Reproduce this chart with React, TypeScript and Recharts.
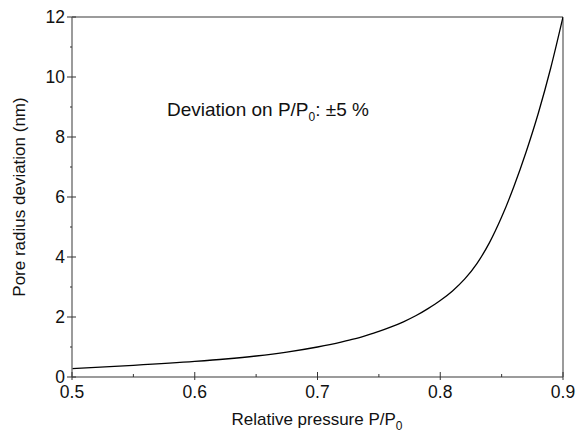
import { LineChart, Line, XAxis, YAxis, ReferenceLine } from "recharts";

// relative pressure P/P0
const pressure = [
  0.5, 0.55, 0.6, 0.625, 0.65, 0.675, 0.7, 0.71, 0.72, 0.73, 0.74, 0.75, 0.76,
  0.77, 0.78, 0.79, 0.8, 0.81, 0.82, 0.83, 0.84, 0.85, 0.86, 0.87, 0.88, 0.89,
  0.9,
];
// pore radius deviation (nm)
const deviation = [
  0.28, 0.39, 0.52, 0.6, 0.7, 0.83, 1.0, 1.08, 1.17, 1.27, 1.39, 1.52, 1.67,
  1.84, 2.04, 2.28, 2.55, 2.87, 3.27, 3.79, 4.47, 5.33, 6.35, 7.51, 8.81, 10.3,
  12.0,
];

const xTicks = [0.5, 0.55, 0.6, 0.65, 0.7, 0.75, 0.8, 0.85, 0.9];
const xMajor = ["0.5", "0.6", "0.7", "0.8", "0.9"];
const yTicks = [0, 1, 2, 3, 4, 5, 6, 7, 8, 9, 10, 11, 12];

const data = pressure.map((p, i) => ({ p, d: deviation[i] }));

const AXIS = "#7a7a7a";
const FONT = "'Liberation Sans', Arial, sans-serif";

const XTick = (props: any) => {
  const { x, y, payload } = props;
  const label = payload.value.toFixed(2).replace(/0$/, "");
  const major = xMajor.includes(label);
  return (
    <g>
      {major ? (
        <line x1={x} x2={x} y1={y - 5} y2={y + 3} stroke="#333" strokeWidth={1} />
      ) : (
        <line x1={x} x2={x} y1={y - 3} y2={y} stroke="#333" strokeWidth={1} />
      )}
      {major && (
        <text x={x} y={y + 21} textAnchor="middle" fontSize={17.5} fill="#111" fontFamily={FONT}>
          {label}
        </text>
      )}
    </g>
  );
};

const YTick = (props: any) => {
  const { x, y, payload } = props;
  const major = payload.value % 2 === 0;
  return (
    <g>
      {major ? (
        <line x1={x - 5} x2={x + 4} y1={y} y2={y} stroke="#333" strokeWidth={1} />
      ) : (
        <line x1={x - 2} x2={x} y1={y} y2={y} stroke="#333" strokeWidth={1} />
      )}
      {major && (
        <text x={x - 7} y={y + 6} textAnchor="end" fontSize={17.5} fill="#111" fontFamily={FONT}>
          {payload.value}
        </text>
      )}
    </g>
  );
};

export default function App() {
  return (
    <div style={{ position: "absolute", left: 0, top: 0, width: 584, height: 436, background: "#fff" }}>
      <LineChart
        width={584}
        height={436}
        data={data}
        margin={{ top: 17, right: 21, bottom: 29, left: 32 }}
      >
        <XAxis
          dataKey="p"
          type="number"
          domain={[0.5, 0.9]}
          ticks={xTicks}
          tick={<XTick />}
          tickLine={false}
          tickSize={0}
          tickMargin={0}
          height={30}
          stroke={AXIS}
          strokeWidth={1.5}
          allowDataOverflow
        />
        <YAxis
          type="number"
          domain={[0, 12]}
          ticks={yTicks}
          tick={<YTick />}
          tickLine={false}
          tickSize={0}
          tickMargin={0}
          width={40}
          stroke={AXIS}
          strokeWidth={1.5}
          interval={0}
          allowDataOverflow
        />
        <ReferenceLine y={12} stroke={AXIS} strokeWidth={1.5} />
        <ReferenceLine x={0.9} stroke={AXIS} strokeWidth={1.5} />
        <Line
          dataKey="d"
          type="monotone"
          stroke="#000"
          strokeWidth={1.3}
          dot={false}
          isAnimationActive={false}
        />
      </LineChart>
      <svg
        width={584}
        height={436}
        style={{ position: "absolute", left: 0, top: 0, pointerEvents: "none" }}
        fontFamily={FONT}
      >
        <text x={167} y={116} fontSize={19} fill="#111">
          Deviation on P/P<tspan fontSize={12} dy={5}>0</tspan>
          <tspan dy={-5}>: ±5 %</tspan>
        </text>
        <text x={317} y={425} fontSize={17} fill="#111" textAnchor="middle">
          Relative pressure P/P<tspan fontSize={12} dy={5}>0</tspan>
        </text>
        <text
          x={25}
          y={197}
          fontSize={17}
          fill="#111"
          textAnchor="middle"
          transform="rotate(-90 25 197)"
        >
          Pore radius deviation (nm)
        </text>
      </svg>
    </div>
  );
}
